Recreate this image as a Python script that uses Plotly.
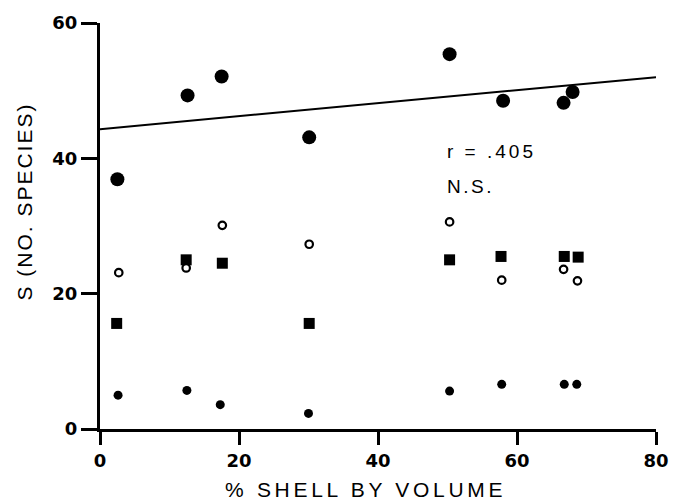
import plotly.graph_objects as go

# --- data ---
x_total = [2.5, 12.6, 17.5, 30.1, 50.3, 58.0, 66.7, 68.0]
s_total = [36.9, 49.3, 52.1, 43.1, 55.4, 48.5, 48.2, 49.8]

x_open = [2.7, 12.4, 17.6, 30.1, 50.3, 57.8, 66.7, 68.7]
s_open = [23.1, 23.8, 30.1, 27.3, 30.6, 22.0, 23.6, 21.9]

x_square = [2.4, 12.4, 17.6, 30.1, 50.3, 57.7, 66.8, 68.8]
s_square = [15.6, 25.0, 24.5, 15.6, 25.0, 25.5, 25.5, 25.4]

x_small = [2.6, 12.5, 17.3, 30.0, 50.3, 57.8, 66.8, 68.6]
s_small = [5.0, 5.7, 3.6, 2.3, 5.6, 6.6, 6.6, 6.6]

fit_x = [0, 80]
fit_y = [44.3, 52.0]

x_ticks = [0, 20, 40, 60, 80]
y_ticks = [0, 20, 40, 60]

x_title = "% SHELL BY VOLUME"
y_title = "S (NO. SPECIES)"
stat_r = "r = .405"
stat_ns = "N.S."

fig = go.Figure()
fig.add_trace(go.Scatter(x=fit_x, y=fit_y, mode="lines",
                         line=dict(color="black", width=2), showlegend=False))
fig.add_trace(go.Scatter(x=x_total, y=s_total, mode="markers",
                         marker=dict(symbol="circle", size=14, color="black"),
                         showlegend=False))
fig.add_trace(go.Scatter(x=x_square, y=s_square, mode="markers",
                         marker=dict(symbol="square", size=11, color="black"),
                         showlegend=False))
fig.add_trace(go.Scatter(x=x_open, y=s_open, mode="markers",
                         marker=dict(symbol="circle", size=7.5, color="white",
                                     line=dict(color="black", width=2.2)),
                         showlegend=False))
fig.add_trace(go.Scatter(x=x_small, y=s_small, mode="markers",
                         marker=dict(symbol="circle", size=9, color="black"),
                         showlegend=False))

tickfont = dict(family="DejaVu Sans", size=18, color="black", weight="bold")
fig.update_xaxes(range=[0, 80], tickvals=x_ticks, ticks="outside", ticklen=13,
                 tickwidth=3, tickcolor="black", showline=True, linewidth=3,
                 linecolor="black", showgrid=False, zeroline=False,
                 tickfont=tickfont)
fig.update_yaxes(range=[0, 60], tickvals=y_ticks, ticks="outside", ticklen=16,
                 tickwidth=3, tickcolor="black", showline=True, linewidth=3,
                 linecolor="black", showgrid=False, zeroline=False,
                 tickfont=tickfont)

titlefont = dict(family="Liberation Sans", size=21, color="black")
fig.add_annotation(xref="paper", yref="paper", x=0.478, y=-0.148,
                   text=f'<span style="letter-spacing:3.7px">{x_title}</span>',
                   showarrow=False, font=titlefont, xanchor="center", yanchor="middle")
fig.add_annotation(xref="paper", yref="paper", x=-0.135, y=0.56, textangle=-90,
                   text=f'<span style="letter-spacing:2px">{y_title}</span>',
                   showarrow=False, font=titlefont, xanchor="center", yanchor="middle")

statfont = dict(family="Liberation Sans", size=19, color="black")
fig.add_annotation(x=49.7, y=41.0, text=f'<span style="letter-spacing:3px">{stat_r}</span>',
                   showarrow=False, font=statfont, xanchor="left", yanchor="middle")
fig.add_annotation(x=49.7, y=35.9, text=f'<span style="letter-spacing:2.5px">{stat_ns}</span>',
                   showarrow=False, font=statfont, xanchor="left", yanchor="middle")

fig.update_layout(width=682, height=501, margin=dict(l=100, r=26, t=19, b=72),
                  plot_bgcolor="white", paper_bgcolor="white", showlegend=False)

fig.write_html("out.html", config={"displayModeBar": False},
               post_script="document.body.style.margin='0';document.body.style.overflow='hidden';")
